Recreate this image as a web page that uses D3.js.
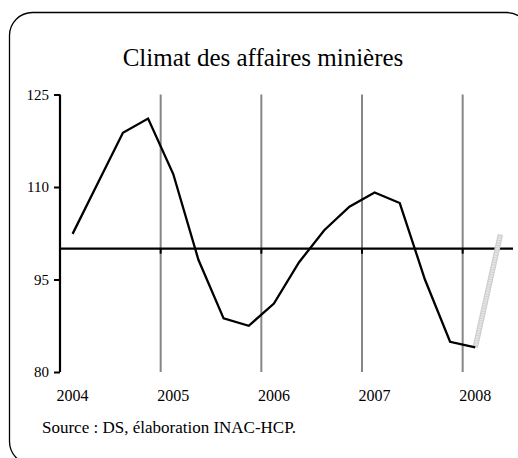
<!DOCTYPE html>
<html>
<head>
<meta charset="utf-8">
<script src="https://cdn.jsdelivr.net/npm/d3@7/dist/d3.min.js"></script>
<style>
  body { margin: 0; background: #fff; }
  svg text { font-family: "Liberation Serif", "Times New Roman", serif; fill: #000; }
</style>
</head>
<body>
<div id="chart"></div>
<script>
'use strict';

// trimestres 2004T1 .. 2008T2
const quarters = ['2004T1', '2004T2', '2004T3', '2004T4',
  '2005T1', '2005T2', '2005T3', '2005T4',
  '2006T1', '2006T2', '2006T3', '2006T4',
  '2007T1', '2007T2', '2007T3', '2007T4',
  '2008T1', '2008T2'];
const climat = [102.4, 110.6, 118.8, 121.1, 112.1, 98.2, 88.7, 87.5,
  91.1, 97.8, 103.0, 106.8, 109.1, 107.4, 95.0, 84.9, 84.0];
const prevision = [84.0, 102.3]; // 2008T1 -> 2008T2
const yTicks = [80, 95, 110, 125];
const yearLabels = ['2004', '2005', '2006', '2007', '2008'];

const width = 518, height = 458;
const plot = { left: 60, right: 513, top: 94.5, bottom: 372 };

const svg = d3.select('#chart').append('svg')
  .attr('width', width).attr('height', height);

// cadre arrondi
svg.append('rect')
  .attr('x', 9.5).attr('y', 12.5)
  .attr('width', 520).attr('height', 452)
  .attr('rx', 23).attr('ry', 23)
  .attr('fill', 'none').attr('stroke', '#000').attr('stroke-width', 1.3);

svg.append('text')
  .attr('x', 263).attr('y', 66)
  .attr('text-anchor', 'middle')
  .style('font-size', '25px')
  .text('Climat des affaires minières');

const x = d3.scaleBand().domain(quarters).range([plot.left, plot.right]);
const y = d3.scaleLinear().domain([80, 125]).range([plot.bottom, plot.top]);
const cx = (q) => x(q) + x.bandwidth() / 2;

// lignes verticales entre les années
const yearStarts = quarters.filter((q, i) => i > 0 && q.endsWith('T1'));
svg.append('g').selectAll('line').data(yearStarts).enter().append('line')
  .attr('x1', (q) => x(q)).attr('x2', (q) => x(q))
  .attr('y1', y(125)).attr('y2', y(80))
  .attr('stroke', '#868686').attr('stroke-width', 2);

// axe Y
const yAxis = d3.axisLeft(y).tickValues(yTicks).tickSize(6).tickPadding(5);
const $yAxis = svg.append('g').attr('transform', `translate(${plot.left},0)`).call(yAxis);
$yAxis.select('.domain').attr('stroke-width', 2.2).attr('d', `M0,${y(125)}V${y(80)}`);
$yAxis.selectAll('.tick line').attr('stroke-width', 2);
$yAxis.selectAll('.tick text')
  .style('font-size', '15px').style('font-family', '"Liberation Serif", serif')
  .attr('dy', '0.3em');

// axe X sur la ligne 100
const xAxis = d3.axisBottom(x)
  .tickValues(quarters.filter((q, i) => i % 4 === 0))
  .tickSize(0).tickFormat('');
const $xAxis = svg.append('g').attr('transform', `translate(0,${y(100)})`).call(xAxis);
$xAxis.select('.domain').attr('stroke-width', 2.2).attr('d', `M${plot.left},0H${plot.right}`);
$xAxis.selectAll('.tick').remove();
svg.append('g').selectAll('line').data(yearStarts).enter().append('line')
  .attr('x1', (q) => x(q)).attr('x2', (q) => x(q))
  .attr('y1', y(100)).attr('y2', y(100) + 5)
  .attr('stroke', '#000').attr('stroke-width', 2);

// années
svg.append('g').selectAll('text').data(yearLabels).enter().append('text')
  .attr('x', (d) => cx(d + 'T1')).attr('y', 401)
  .attr('text-anchor', 'middle')
  .style('font-size', '16px')
  .text((d) => d);

// prévision (segment gris)
const fq = quarters.slice(-2);
const line = d3.line().x((d) => cx(d[0])).y((d) => y(d[1]));
const fData = fq.map((q, i) => [q, prevision[i]]);
svg.append('path').attr('d', line(fData))
  .attr('fill', 'none').attr('stroke', '#cfcfcf').attr('stroke-width', 5.5);
svg.append('path').attr('d', line(fData))
  .attr('fill', 'none').attr('stroke', '#e8e8e8').attr('stroke-width', 3)
  .attr('stroke-dasharray', '1.5,1');

// série
svg.append('path')
  .attr('d', line(climat.map((v, i) => [quarters[i], v])))
  .attr('fill', 'none').attr('stroke', '#000').attr('stroke-width', 2.3)
  .attr('stroke-linejoin', 'miter');

svg.append('text')
  .attr('x', 42).attr('y', 433)
  .style('font-size', '17px')
  .text('Source : DS, élaboration INAC-HCP.');
</script>
</body>
</html>
